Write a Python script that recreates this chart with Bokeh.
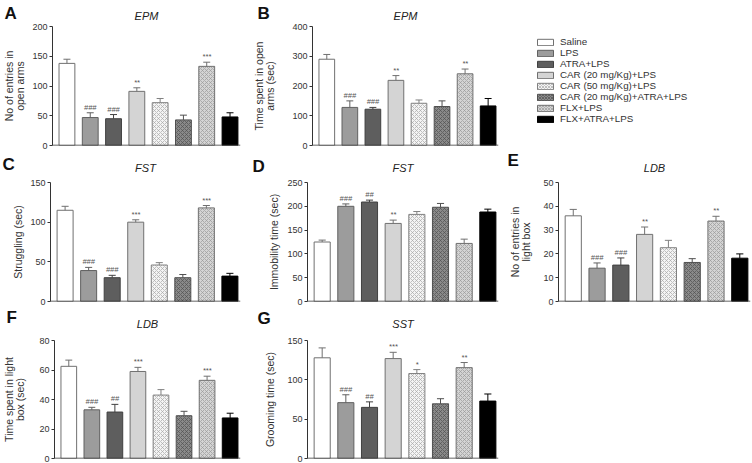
from bokeh.plotting import figure
from bokeh.layouts import column, row
from bokeh.models import Span, Legend, LegendItem, Range1d, FixedTicker, ColumnDataSource, Title
from bokeh.core.properties import value, field
from bokeh.embed import file_html
from bokeh.resources import INLINE

# ---------------- data ----------------
groups = ["Saline", "LPS", "ATRA+LPS", "CAR (20 mg/Kg)+LPS", "CAR (50 mg/Kg)+LPS",
          "CAR (20 mg/Kg)+ATRA+LPS", "FLX+LPS", "FLX+ATRA+LPS"]

a_mean = [138, 47, 45, 91, 72, 43, 133, 48]
a_err = [7, 8, 7, 6, 7, 8, 7, 7]
a_sig = ["", "###", "###", "**", "", "", "***", ""]

b_mean = [290, 128, 122, 219, 142, 131, 241, 133]
b_err = [16, 22, 6, 16, 11, 19, 16, 25]
b_sig = ["", "###", "###", "**", "", "", "**", ""]

c_mean = [115, 39, 30, 100, 46, 30, 118, 32]
c_err = [5, 4, 3, 3, 3, 4, 3, 3.5]
c_sig = ["", "###", "###", "***", "", "", "***", ""]

d_mean = [125, 200, 209, 164, 183, 198, 122, 188]
d_err = [4, 5, 4, 7, 6, 8, 9, 6]
d_sig = ["", "###", "##", "**", "", "", "", ""]

e_mean = [36, 14, 15.3, 28.2, 22.6, 16.4, 33.8, 18.2]
e_err = [2.7, 2.2, 3, 3.1, 3.1, 1.6, 2, 1.8]
e_sig = ["", "###", "###", "**", "", "", "**", ""]

f_mean = [62.5, 33, 31.5, 59, 43, 29, 53, 27.5]
f_err = [4.2, 1.7, 5.2, 2.8, 3.7, 3, 2.8, 3.2]
f_sig = ["", "###", "##", "***", "", "", "***", ""]

g_mean = [128, 71, 65, 127, 108, 69.5, 115.5, 73]
g_err = [12.6, 10, 7, 8, 5, 6.5, 6.5, 9]
g_sig = ["", "###", "##", "***", "*", "", "**", ""]

# ---------------- style ----------------
FONT = "Liberation Sans"
fills = ["#ffffff", "#9c9c9c", "#5e5e5e", "#d4d4d4", "#f4f4f4", "#8a8a8a", "#d4d4d4", "#000000"]
hatch_pats = [" ", " ", " ", " ", "diagonal_cross", "diagonal_cross", "diagonal_cross", " "]
hatch_cols = ["#000000", "#000000", "#000000", "#000000", "#a8a8a8", "#505050", "#9a9a9a", "#000000"]
outlines = ["#707070", "#606060", "#404040", "#707070", "#808080", "#505050", "#707070", "#000000"]
AX = "#333333"
X0, X1 = 0.38, 8.45
NAME_PX, LET_PX = 11, 17


def make_panel(mean, err, sig, ymax, step, ylabel, title, letter, W, H, L, R, T, B,
               lab_standoff, let_dx, let_base, name_raise):
    n = len(mean)
    xs = list(range(1, n + 1))
    p = figure(width=W, height=H, x_range=Range1d(X0, X1), y_range=Range1d(0, ymax),
               toolbar_location=None, output_backend="svg", x_axis_location=None,
               min_border_left=L, min_border_right=R, min_border_top=T, min_border_bottom=B,
               outline_line_color=None, title=None)
    p.grid.visible = False
    top = [m + e for m, e in zip(mean, err)]
    src = ColumnDataSource(dict(x=xs, top=mean, etop=top, fill=fills[:n], hp=hatch_pats[:n],
                                hc=hatch_cols[:n], lc=outlines[:n], sig=sig,
                                c0=[x - 0.15 for x in xs], c1=[x + 0.15 for x in xs]))
    p.vbar(x="x", top="top", width=0.68, source=src, fill_color="fill", line_color="lc",
           line_width=1, hatch_pattern=field("hp"), hatch_color="hc", hatch_scale=4,
           hatch_weight=0.7)
    p.segment(x0="x", y0="top", x1="x", y1="etop", source=src, line_color="lc", line_width=1)
    p.segment(x0="c0", y0="etop", x1="c1", y1="etop", source=src, line_color="lc", line_width=1)
    p.text(x="x", y="etop", text="sig", source=src, text_font=value(FONT), text_font_size="7.5px",
           text_font_style="italic", text_align="center", text_baseline="bottom", y_offset=-1,
           text_color="#555555")
    p.add_layout(Span(location=0, dimension="width", line_color=AX, line_width=1.5))
    ax = p.yaxis[0]
    ax.ticker = FixedTicker(ticks=list(range(0, ymax + 1, step)))
    ax.axis_label = ylabel
    ax.axis_label_text_font = FONT
    ax.axis_label_text_font_size = "10.5px"
    ax.axis_label_text_font_style = "normal"
    ax.axis_label_text_color = AX
    ax.axis_label_text_line_height = 0.95
    ax.axis_label_standoff = lab_standoff
    ax.major_label_text_font = FONT
    ax.major_label_text_font_size = "9px"
    ax.major_label_text_color = AX
    ax.major_label_standoff = 2
    ax.major_tick_out = 3
    ax.major_tick_in = 0
    ax.minor_tick_line_color = None
    ax.axis_line_color = AX
    ax.major_tick_line_color = AX
    # panel name: inner title, sized to fit inside the top border
    s_n = T - 15 - 2 * name_raise
    h_panel = 2 + 1.117 * NAME_PX + s_n
    p.add_layout(Title(text=title, align="center", vertical_align="top", standoff=s_n,
                       text_font=FONT, text_font_size=f"{NAME_PX}px", text_font_style="italic",
                       text_color="#222222"), "above")
    # panel letter: outer title, pulled down beside the name
    outer_bottom = T - h_panel
    s_l = -2 * ((let_base + 0.212 * LET_PX) - outer_bottom)
    p.add_layout(Title(text=letter, align="left", offset=let_dx, standoff=s_l, text_font=FONT,
                       text_font_size=f"{LET_PX}px", text_font_style="bold",
                       text_color="#111111"), "above")
    return p


# columns: (W, L, R) ; rows: (H, T, B)
C1, C2, C3 = (250, 50, 10), (250, 57, 2), (251, 58, 1)
R1, R2, R3 = (150, 26, 5), (155, 32, 4), (157, 35, 4)


def P(mean, err, sig, ymax, step, ylabel, title, letter, C, Rw, lab_standoff, let_dx, let_base,
      name_raise):
    return make_panel(mean, err, sig, ymax, step, ylabel, title, letter, C[0], Rw[0], C[1], C[2],
                      Rw[1], Rw[2], lab_standoff, let_dx, let_base, name_raise)


pA = P(a_mean, a_err, a_sig, 200, 50, "No of entries in\nopen arms", "EPM", "A", C1, R1, 3, -48, 19, 3)
pB = P(b_mean, b_err, b_sig, 400, 100, "Time spent in open\narms (sec)", "EPM", "B", C2, R1, 13, -55, 19, 3)

# legend panel
pL = figure(width=C3[0], height=R1[0], x_range=Range1d(0, 1), y_range=Range1d(0, 1),
            toolbar_location=None, output_backend="svg", x_axis_location=None,
            y_axis_location=None, min_border_left=0, min_border_right=0, min_border_top=0,
            min_border_bottom=0, outline_line_color=None, title=None)
pL.grid.visible = False
items = []
for i, g in enumerate(groups):
    # a bar placed outside the visible range; only its legend swatch is seen
    r = pL.vbar(x=[5], top=[1], width=0.5, fill_color=fills[i], line_color=outlines[i],
                hatch_pattern=hatch_pats[i], hatch_color=hatch_cols[i], hatch_scale=3,
                hatch_weight=0.7)
    items.append(LegendItem(label=g, renderers=[r]))
leg = Legend(items=items, location=(35, 21), glyph_width=20, glyph_height=8,
             label_text_font=FONT, label_text_font_size="9.8px", label_text_color="#333333",
             label_standoff=5, spacing=0, padding=0, margin=0, label_height=11,
             border_line_color=None, background_fill_alpha=0)
pL.add_layout(leg)

pC = P(c_mean, c_err, c_sig, 150, 50, "Struggling (sec)", "FST", "C", C1, R2, 3, -48, 20, 2)
pD = P(d_mean, d_err, d_sig, 250, 50, "Immobility time (sec)", "FST", "D", C2, R2, 4, -55, 22, 2)
pE = P(e_mean, e_err, e_sig, 50, 10, "No of entries in\nlight box", "LDB", "E", C3, R2, 8, -51, 16, 2)
pF = P(f_mean, f_err, f_sig, 80, 20, "Time spent in light\nbox (sec)", "LDB", "F", C1, R3, 10, -48, 18, 1)
pG = P(g_mean, g_err, g_sig, 150, 50, "Grooming time (sec)", "SST", "G", C2, R3, 8, -50, 19, 1)

layout = column(row(pA, pB, pL), row(pC, pD, pE), row(pF, pG))
open("out.html", "w").write(file_html(layout, INLINE))
